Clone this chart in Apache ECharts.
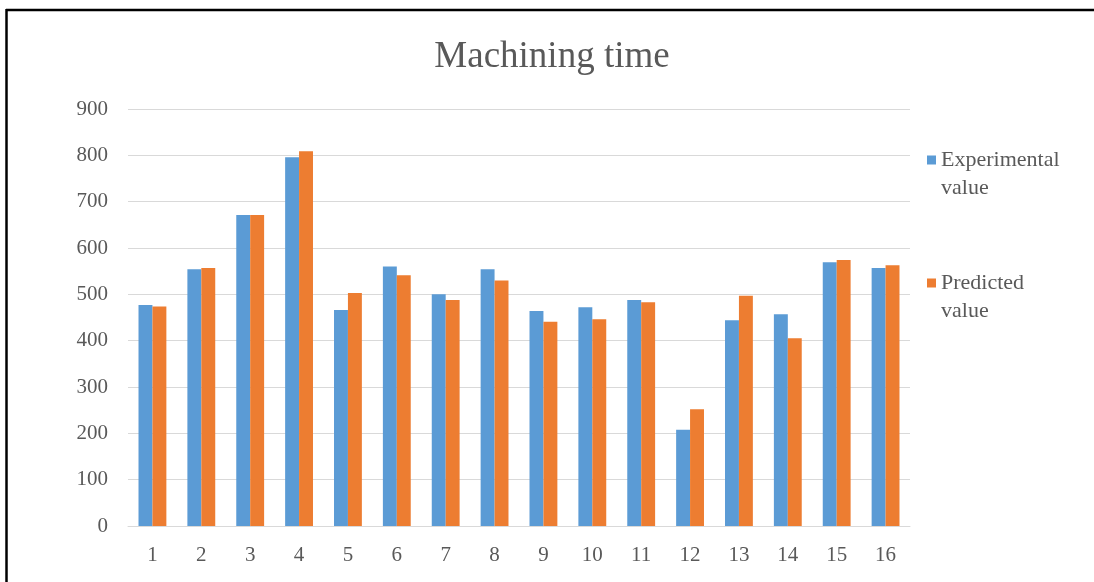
<!DOCTYPE html>
<html>
<head>
<meta charset="utf-8">
<title>Machining time</title>
<script src="https://cdn.jsdelivr.net/npm/echarts@6/dist/echarts.min.js"></script>
<style>
  html, body { margin: 0; padding: 0; background: #fff; }
  #main { width: 1094px; height: 582px; }
</style>
</head>
<body>
<div id="main"></div>
<script>
// data
var categories = ['1', '2', '3', '4', '5', '6', '7', '8', '9', '10', '11', '12', '13', '14', '15', '16'];
var experimental = [477, 554, 671, 796, 466, 560, 500, 554, 464, 472, 488, 208, 444, 457, 569, 557];
var predicted = [474, 557, 671, 809, 503, 541, 488, 530, 441, 446, 483, 252, 497, 405, 574, 563];
var seriesNames = ['Experimental\nvalue', 'Predicted\nvalue'];

var font = '"Liberation Serif", "Times New Roman", serif';
var textColor = '#595959';

var myChart = echarts.init(document.getElementById('main'));

var options = {
	backgroundColor: '#fff',
	animation: false,
	title: {
		text: 'Machining time',
		left: 552,
		textAlign: 'center',
		top: 39,
		padding: 0,
		textStyle: {
			fontFamily: font,
			fontSize: 37,
			fontWeight: 'normal',
			color: textColor
		}
	},
	legend: {
		orient: 'vertical',
		left: 927,
		top: 118,
		padding: 0,
		itemGap: 39,
		itemWidth: 9,
		itemHeight: 9,
		icon: 'rect',
		data: seriesNames,
		// empty first line so the icon sits beside the first real line
		formatter: function(name) {
			return '\n' + name;
		},
		textStyle: {
			fontFamily: font,
			fontSize: 22,
			lineHeight: 28,
			color: textColor
		}
	},
	grid: {
		left: 128,
		right: 184,
		top: 109,
		bottom: 56,
		containLabel: false
	},
	xAxis: [{
		type: 'category',
		data: categories,
		axisLine: { lineStyle: { color: '#d9d9d9', width: 1 } },
		axisTick: { show: false },
		axisLabel: {
			margin: 19,
			fontFamily: font,
			fontSize: 21,
			color: textColor
		}
	}],
	yAxis: [{
		type: 'value',
		min: 0,
		max: 900,
		interval: 100,
		axisLine: { show: false },
		axisTick: { show: false },
		splitLine: { lineStyle: { color: '#d9d9d9', width: 1 } },
		axisLabel: {
			margin: 20,
			fontFamily: font,
			fontSize: 21,
			color: textColor,
			padding: [6, 0, 0, 0]
		}
	}],
	series: [{
		name: seriesNames[0],
		type: 'bar',
		data: experimental,
		barGap: '0%',
		barCategoryGap: '43%',
		itemStyle: { color: '#5b9bd5' }
	}, {
		name: seriesNames[1],
		type: 'bar',
		data: predicted,
		barGap: '0%',
		barCategoryGap: '43%',
		itemStyle: { color: '#ed7d31' }
	}],
	graphic: [{
		type: 'line',
		shape: { x1: 6, y1: 10, x2: 1094, y2: 10 },
		style: { stroke: '#000', lineWidth: 2.5 }
	}, {
		type: 'line',
		shape: { x1: 6.5, y1: 9, x2: 6.5, y2: 582 },
		style: { stroke: '#000', lineWidth: 2.5 }
	}]
};

myChart.setOption(options, true);
</script>
</body>
</html>
